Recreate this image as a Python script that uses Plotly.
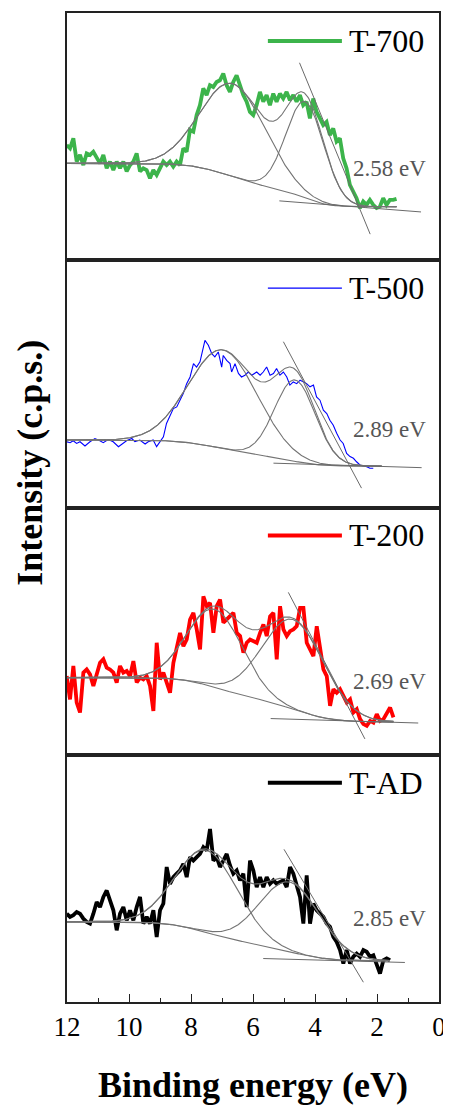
import math
import numpy as np
import plotly.graph_objects as go
from plotly.subplots import make_subplots

# ---------------- data ----------------
samples = ["T-700", "T-500", "T-200", "T-AD"]
colors = ["#3CB44B", "#0000FF", "#FF0000", "#000000"]
widths = [3.8, 1.1, 3.8, 3.8]
vbm_values = [2.58, 2.89, 2.69, 2.85]   # eV, labelled values

t700_intensity = [
    46.6, 45.3, 49.3, 39.9, 42.6, 38.5, 43.2, 42.6, 43.9, 41.2,
    39.2, 42.6, 37.2, 39.9, 36.5, 39.9, 37.2, 39.9, 35.9, 38.5,
    39.9, 43.2, 35.9, 37.2, 36.5, 33.2, 36.5, 34.5, 37.2, 39.9,
    38.5, 39.9, 37.9, 39.9, 38.5, 45.3, 43.9, 52.7, 52.0, 58.7,
    62.7, 69.5, 66.8, 70.8, 70.1, 72.1, 72.8, 75.5, 70.8, 68.1,
    72.1, 74.8, 70.8, 66.8, 64.1, 60.0, 58.7, 62.7, 68.1, 64.1,
    66.8, 62.7, 67.4, 64.1, 67.4, 65.4, 68.1, 64.7, 66.8, 64.1,
    66.8, 62.7, 64.1, 57.4, 65.4, 60.0, 57.4, 54.7, 56.0, 50.6,
    53.3, 48.0, 49.3, 41.2, 37.2, 30.5, 27.8, 25.1, 21.1, 23.8,
    22.4, 24.4, 22.4, 21.1, 21.7, 25.1, 22.4, 24.4, 24.4, 24.8]
t700_energy_range = [12.01, 1.37]

t500_energy = [
    12.01, 11.90, 11.80, 11.69, 11.58, 11.42, 11.26, 11.10, 10.94, 10.83,
    10.67, 10.51, 10.34, 10.18, 10.08, 9.91, 9.81, 9.65, 9.48, 9.38,
    9.22, 9.11, 9.00, 8.89, 8.79, 8.68, 8.57, 8.46, 8.36, 8.25,
    8.14, 8.03, 7.92, 7.82, 7.71, 7.60, 7.55, 7.44, 7.33, 7.23,
    7.12, 7.01, 6.96, 6.85, 6.74, 6.69, 6.58, 6.47, 6.37, 6.26,
    6.15, 6.04, 5.88, 5.77, 5.67, 5.56, 5.45, 5.34, 5.24, 5.13,
    5.02, 4.91, 4.81, 4.70, 4.59, 4.48, 4.38, 4.27, 4.16, 4.05,
    3.95, 3.84, 3.73, 3.62, 3.52, 3.41, 3.30, 3.19, 3.09, 2.98,
    2.87, 2.76, 2.66, 2.55, 2.44, 2.33, 2.23, 2.12]
t500_intensity = [
    26.6, 26.2, 27.0, 25.9, 26.6, 24.9, 26.6, 27.9, 27.0, 26.2,
    27.5, 26.6, 24.6, 25.9, 27.0, 27.9, 26.6, 27.3, 25.7, 26.6,
    27.3, 24.6, 26.6, 28.6, 34.0, 36.7, 40.0, 40.7, 43.4, 46.1,
    50.1, 52.8, 58.2, 56.8, 58.9, 64.9, 67.6, 65.6, 62.2, 60.9,
    62.9, 56.8, 61.5, 59.5, 58.2, 54.8, 58.2, 54.2, 52.8, 53.5,
    54.8, 53.5, 54.8, 53.5, 54.8, 56.8, 53.5, 54.2, 56.2, 53.5,
    54.8, 52.8, 49.5, 50.8, 50.1, 51.5, 50.8, 50.1, 48.8, 49.5,
    44.7, 43.4, 39.4, 38.0, 35.3, 33.3, 30.0, 27.3, 25.9, 21.9,
    20.6, 19.9, 18.5, 17.2, 16.8, 16.5, 15.9, 15.9]

t200_intensity = [
    31.8, 22.4, 35.9, 21.1, 17.1, 33.2, 34.5, 32.5, 27.8, 33.2,
    37.2, 38.6, 35.2, 34.5, 33.2, 29.2, 35.9, 33.2, 33.9, 31.8,
    37.9, 29.2, 31.2, 30.5, 31.8, 27.8, 17.7, 45.3, 30.5, 33.2,
    29.2, 25.1, 37.2, 43.9, 49.3, 43.9, 46.6, 54.7, 57.4, 50.7,
    42.6, 64.1, 60.1, 61.4, 49.3, 60.1, 62.8, 53.4, 54.7, 56.0,
    57.4, 49.3, 48.0, 41.3, 45.3, 46.6, 46.0, 45.3, 49.3, 52.7,
    48.0, 56.0, 57.4, 38.6, 60.1, 50.7, 48.0, 50.0, 50.7, 52.0,
    59.4, 59.4, 45.3, 42.6, 39.9, 52.0, 42.6, 34.5, 31.8, 19.8,
    26.5, 25.1, 26.5, 23.8, 21.1, 22.4, 17.1, 18.4, 14.4, 12.4,
    11.7, 13.7, 13.0, 16.4, 13.7, 14.4, 17.1, 19.1, 15.1]
t200_energy_range = [12.01, 1.47]

tad_intensity = [
    35.7, 34.4, 35.1, 36.4, 35.7, 33.7, 32.4, 31.7, 35.7, 40.4,
    38.4, 42.5, 45.1, 41.1, 37.1, 29.0, 35.7, 38.4, 33.0, 37.1,
    33.0, 38.4, 42.5, 31.7, 34.4, 31.7, 37.1, 26.3, 37.1, 39.8,
    54.6, 47.8, 50.5, 51.9, 53.2, 55.9, 50.5, 58.6, 57.2, 58.6,
    59.9, 62.6, 61.3, 70.0, 57.2, 58.6, 54.6, 57.2, 59.9, 55.2,
    51.9, 53.2, 49.2, 51.9, 38.4, 57.2, 53.2, 46.5, 50.5, 46.5,
    50.5, 47.8, 49.2, 47.8, 48.5, 49.2, 46.5, 54.6, 51.9, 47.8,
    42.5, 31.7, 51.2, 31.7, 39.8, 37.1, 35.7, 34.4, 31.7, 30.4,
    26.3, 24.3, 21.0, 15.6, 21.0, 15.6, 18.3, 19.6, 18.3, 21.0,
    20.3, 18.3, 18.9, 15.6, 11.5, 16.9, 17.6, 16.9]
tad_energy_range = [12.01, 1.58]

# fit parameters read from the drawn components: (centre eV, height, sigma eV)
fit_peaks = [
    [(6.64, 37.6, 1.05), (4.32, 39.0, 0.61)],
    [(6.96, 39.9, 1.10), (4.64, 32.9, 0.66)],
    [(7.23, 31.6, 0.89), (4.70, 36.3, 0.99)],
    [(7.49, 33.2, 1.00), (4.81, 28.2, 0.97)],
]
bg_high = [39.2, 27.3, 31.2, 32.4]
bg_low = [21.7, 16.8, 13.3, 16.7]
fit_end = [1.37, 1.85, 1.47, 1.58]

# linear extrapolation lines for the valence band edge
base_level_at_vbm = [21.5, 17.0, 13.6, 16.6]
base_slope = [0.98, 0.38, 0.38, 0.35]
base_span = [(5.15, 0.58), (5.34, 0.56), (5.43, 0.67), (5.67, 1.10)]
edge_slope = [30.4, 23.5, 24.0, 21.0]
edge_span = [(4.50, 2.22), (5.02, 2.50), (4.86, 2.39), (5.00, 2.44)]
label_y = [37.1, 31.4, 29.8, 33.9]

energies = [
    np.linspace(t700_energy_range[0], t700_energy_range[1], len(t700_intensity)),
    np.array(t500_energy),
    np.linspace(t200_energy_range[0], t200_energy_range[1], len(t200_intensity)),
    np.linspace(tad_energy_range[0], tad_energy_range[1], len(tad_intensity)),
]
intensities = [t700_intensity, t500_intensity, t200_intensity, tad_intensity]

# ---------------- figure ----------------
FONT = "Liberation Serif"
fig = make_subplots(rows=4, cols=1, shared_xaxes=False, vertical_spacing=0)

def gauss(E, c, h, s):
    return h * np.exp(-(E - c) ** 2 / (2 * s ** 2))

def phi(z):
    return 0.5 * (1 + np.array([math.erf(v / math.sqrt(2)) for v in z]))

for i in range(4):
    row = i + 1
    E = energies[i]
    fig.add_trace(go.Scatter(x=E, y=intensities[i], mode="lines",
                             line=dict(color=colors[i], width=widths[i]),
                             showlegend=False, hoverinfo="skip"), row=row, col=1)
    # fit curves (Shirley-type background + Gaussian components + envelope)
    Ef = np.linspace(max(E), fit_end[i], 400)
    peaks = fit_peaks[i]
    w = [h * s for (c, h, s) in peaks]
    frac = sum(wk * phi((Ef - c) / s) for wk, (c, h, s) in zip(w, peaks)) / sum(w)
    bg = bg_low[i] + (bg_high[i] - bg_low[i]) * frac
    comps = [gauss(Ef, c, h, s) for (c, h, s) in peaks]
    curves = [bg] + [bg + cp for cp in comps] + [bg + sum(comps)]
    for cv in curves:
        fig.add_trace(go.Scatter(x=Ef, y=cv, mode="lines",
                                 line=dict(color="#747474", width=1.1),
                                 showlegend=False, hoverinfo="skip"), row=row, col=1)
    # extrapolation lines
    v = vbm_values[i]
    bx = np.array(base_span[i])
    fig.add_trace(go.Scatter(x=bx, y=base_level_at_vbm[i] + base_slope[i] * (bx - v),
                             mode="lines", line=dict(color="#6a6a6a", width=1),
                             showlegend=False, hoverinfo="skip"), row=row, col=1)
    ex = np.array(edge_span[i])
    fig.add_trace(go.Scatter(x=ex, y=base_level_at_vbm[i] + edge_slope[i] * (ex - v),
                             mode="lines", line=dict(color="#6a6a6a", width=1),
                             showlegend=False, hoverinfo="skip"), row=row, col=1)
    # VBM label
    fig.add_annotation(x=0.35, y=label_y[i], xref=f"x{row}" if row > 1 else "x",
                       yref=f"y{row}" if row > 1 else "y",
                       text=f"{v:.2f} eV", showarrow=False, xanchor="right", yanchor="middle",
                       font=dict(family=FONT, size=23, color="#555555"))
    # legend (line + text)
    xd = f"x{row} domain" if row > 1 else "x domain"
    yd = f"y{row} domain" if row > 1 else "y domain"
    fig.add_shape(type="line", xref=xd, yref=yd, x0=0.54, x1=0.739, y0=0.887, y1=0.887,
                  line=dict(color=colors[i], width=widths[i] + 0.2))
    fig.add_annotation(xref=xd, yref=yd, x=0.752, y=0.887, text=samples[i], showarrow=False,
                       xanchor="left", yanchor="middle",
                       font=dict(family=FONT, size=32, color="black"))

axis_line = dict(showline=True, mirror=True, linecolor="#222222", linewidth=1.5,
                 showgrid=False, zeroline=False)
for row in range(1, 5):
    bottom = row == 4
    fig.update_xaxes(range=[12, 0], **axis_line,
                     ticks="inside" if bottom else "", ticklen=8, tickwidth=1.3,
                     tickcolor="#222222", dtick=2, tick0=0,
                     showticklabels=bottom, ticklabeloverflow="allow",
                     tickfont=dict(family=FONT, size=27, color="black"),
                     minor=dict(ticks="inside" if bottom else "", ticklen=4, dtick=1,
                                tickwidth=1.3, tickcolor="#222222", showgrid=False),
                     row=row, col=1)
    fig.update_yaxes(range=[0, 100], **axis_line, ticks="", showticklabels=False,
                     row=row, col=1)

fig.add_annotation(xref="paper", yref="paper", x=0.5, y=-0.0835, text="<b>Binding energy (eV)</b>",
                   showarrow=False, xanchor="center", yanchor="middle",
                   font=dict(family=FONT, size=36, color="black"))
fig.add_annotation(xref="paper", yref="paper", x=-0.1, y=0.545, text="<b>Intensity (c.p.s.)</b>",
                   showarrow=False, xanchor="center", yanchor="middle", textangle=-90,
                   font=dict(family=FONT, size=36, color="black"))

# the page body adds an 8 px offset, so the figure is sized to fit inside the window
fig.update_layout(width=443, height=1098, margin=dict(l=59, r=12, t=3, b=104),
                  paper_bgcolor="white", plot_bgcolor="white", showlegend=False)

fig.write_html("out.html")
